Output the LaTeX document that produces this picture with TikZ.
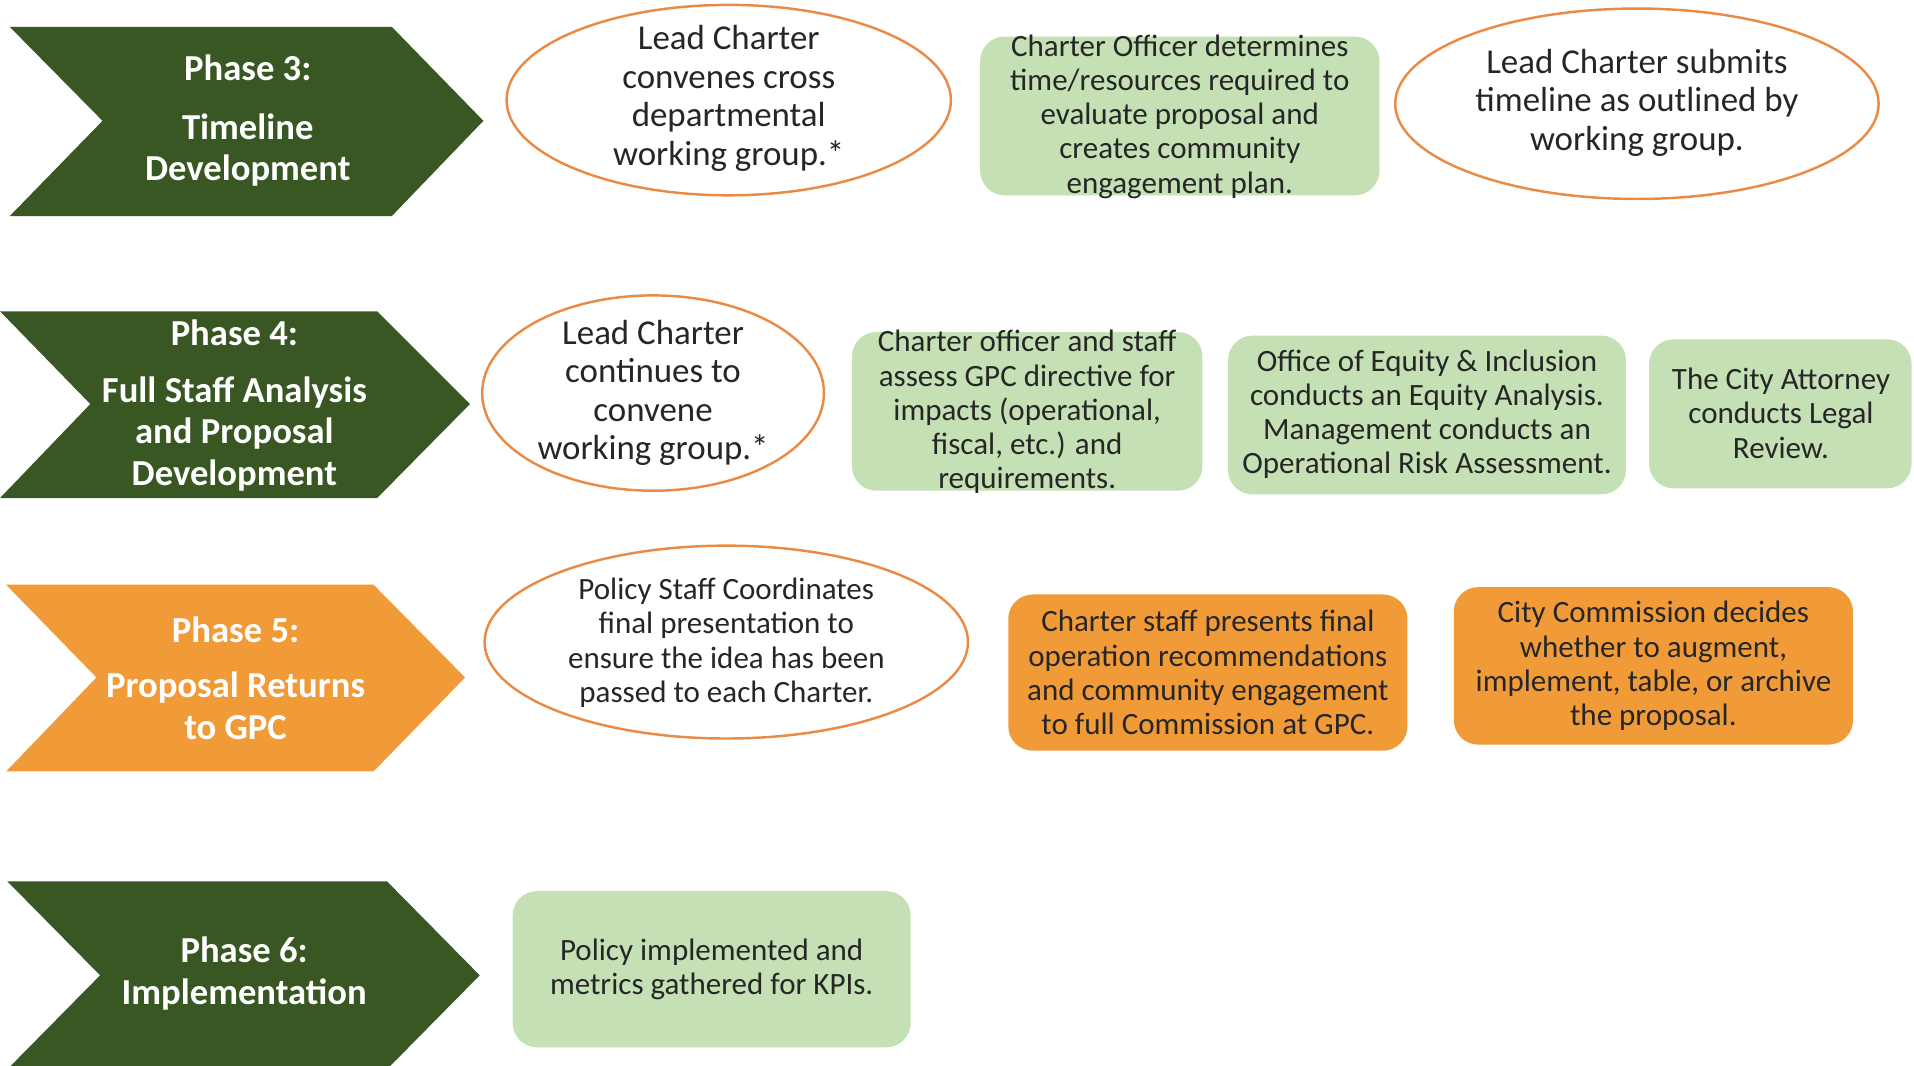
\documentclass[tikz,border=0pt]{standalone}
\usepackage{fontspec}
\setmainfont{Carlito}
\usetikzlibrary{shapes.geometric}
\definecolor{dkgreen}{HTML}{385723}
\definecolor{chorange}{HTML}{F19B38}
\definecolor{ltgreen}{HTML}{C5E0B4}
\definecolor{ellline}{HTML}{E98A45}
\definecolor{txtdark}{HTML}{262626}
\tikzset{
  phasetxt/.style={text=white, align=center, inner sep=0pt, font=\bfseries\fontsize{30}{34}\selectfont},
  elltxt/.style={text=txtdark, align=center, inner sep=0pt, font=\fontsize{28.6}{31.5}\selectfont},
  boxtxt/.style={text=txtdark, align=center, inner sep=0pt, font=\fontsize{25.4}{28}\selectfont},
  ell/.style={ellipse, draw=ellline, line width=2pt, fill=white, inner sep=0pt},
  gbox/.style={rectangle, rounded corners=20pt, fill=ltgreen, inner sep=0pt},
  obox/.style={rectangle, rounded corners=20pt, fill=chorange, inner sep=0pt},
}
\begin{document}
\begin{tikzpicture}[x=1pt,y=-1pt]
\useasboundingbox (0,0) rectangle (1568,873);
\clip (0,0) rectangle (1568,873);
\fill[white] (0,0) rectangle (1568,873);

% ---------- Phase 3 ----------
\fill[dkgreen] (8,22) -- (321,22) -- (396,99) -- (321,177) -- (8,177) -- (84,99) -- cycle;
\node[phasetxt] (p3) at (203,99) {Phase 3:\\[14pt]Timeline\\Development};

\node[ell, minimum width=364pt, minimum height=156pt] (e1) at (597,82) {};
\node[elltxt] (e1t) at (597,80.5) {Lead Charter\\convenes cross\\departmental\\working group.*};

\node[gbox, minimum width=327pt, minimum height=130pt] (g1) at (966.5,95) {};
\node[boxtxt] (g1t) at (966.5,95.5) {Charter Officer determines\\time/resources required to\\evaluate proposal and\\creates community\\engagement plan.};

\node[ell, minimum width=396pt, minimum height=156pt] (e2) at (1341,85) {};
\node[elltxt] (e2t) at (1341,84) {Lead Charter submits\\timeline as outlined by\\working group.};

% ---------- Phase 4 ----------
\fill[dkgreen] (0,255) -- (309,255) -- (385,331) -- (309,408) -- (0,408) -- (74,331) -- cycle;
\node[phasetxt] (p4) at (192,332) {Phase 4:\\[13pt]Full Staff Analysis\\and Proposal\\Development};

\node[ell, minimum width=280pt, minimum height=160pt] (e3) at (535,322) {};
\node[elltxt] (e3t) at (535,322) {Lead Charter\\continues to\\convene\\working group.*};

\node[gbox, minimum width=287pt, minimum height=130pt] (g2) at (841.5,337) {};
\node[boxtxt] (g2t) at (841.5,337.5) {Charter officer and staff\\assess GPC directive for\\impacts (operational,\\fiscal, etc.) and\\requirements.};

\node[gbox, minimum width=326pt, minimum height=130pt] (g3) at (1169,340) {};
\node[boxtxt] (g3t) at (1169,339.5) {Office of Equity \& Inclusion\\conducts an Equity Analysis.\\Management conducts an\\Operational Risk Assessment.};

\node[gbox, minimum width=215pt, minimum height=122pt] (g4) at (1458.5,339) {};
\node[boxtxt] (g4t) at (1459,338.5) {The City Attorney\\conducts Legal\\Review.};

% ---------- Phase 5 ----------
\fill[chorange] (5,479) -- (306,479) -- (381,555) -- (306,632) -- (5,632) -- (79,555) -- cycle;
\node[phasetxt] (p5) at (193,555.5) {Phase 5:\\[11pt]Proposal Returns\\to GPC};

\node[ell, minimum width=396pt, minimum height=158pt] (e4) at (595,526) {};
\node[boxtxt] (e4t) at (595,526.5) {Policy Staff Coordinates\\final presentation to\\ensure the idea has been\\passed to each Charter.};

\node[obox, minimum width=327pt, minimum height=128pt] (o1) at (989.5,551) {};
\node[boxtxt] (o1t) at (989.5,551) {Charter staff presents final\\operation recommendations\\and community engagement\\to full Commission at GPC.};

\node[obox, minimum width=327pt, minimum height=129pt] (o2) at (1354.5,545.5) {};
\node[boxtxt] (o2t) at (1354.5,545.5) {City Commission decides\\whether to augment,\\implement, table, or archive\\the proposal.};

% ---------- Phase 6 ----------
\fill[dkgreen] (6,722) -- (317,722) -- (393,799) -- (317,876) -- (6,876) -- (82,799) -- cycle;
\node[phasetxt] (p6) at (200,797.5) {Phase 6:\\Implementation};

\node[gbox, minimum width=326pt, minimum height=128pt] (g5) at (583,794) {};
\node[boxtxt] (g5t) at (583,794) {Policy implemented and\\metrics gathered for KPIs.};
\end{tikzpicture}
\end{document}
